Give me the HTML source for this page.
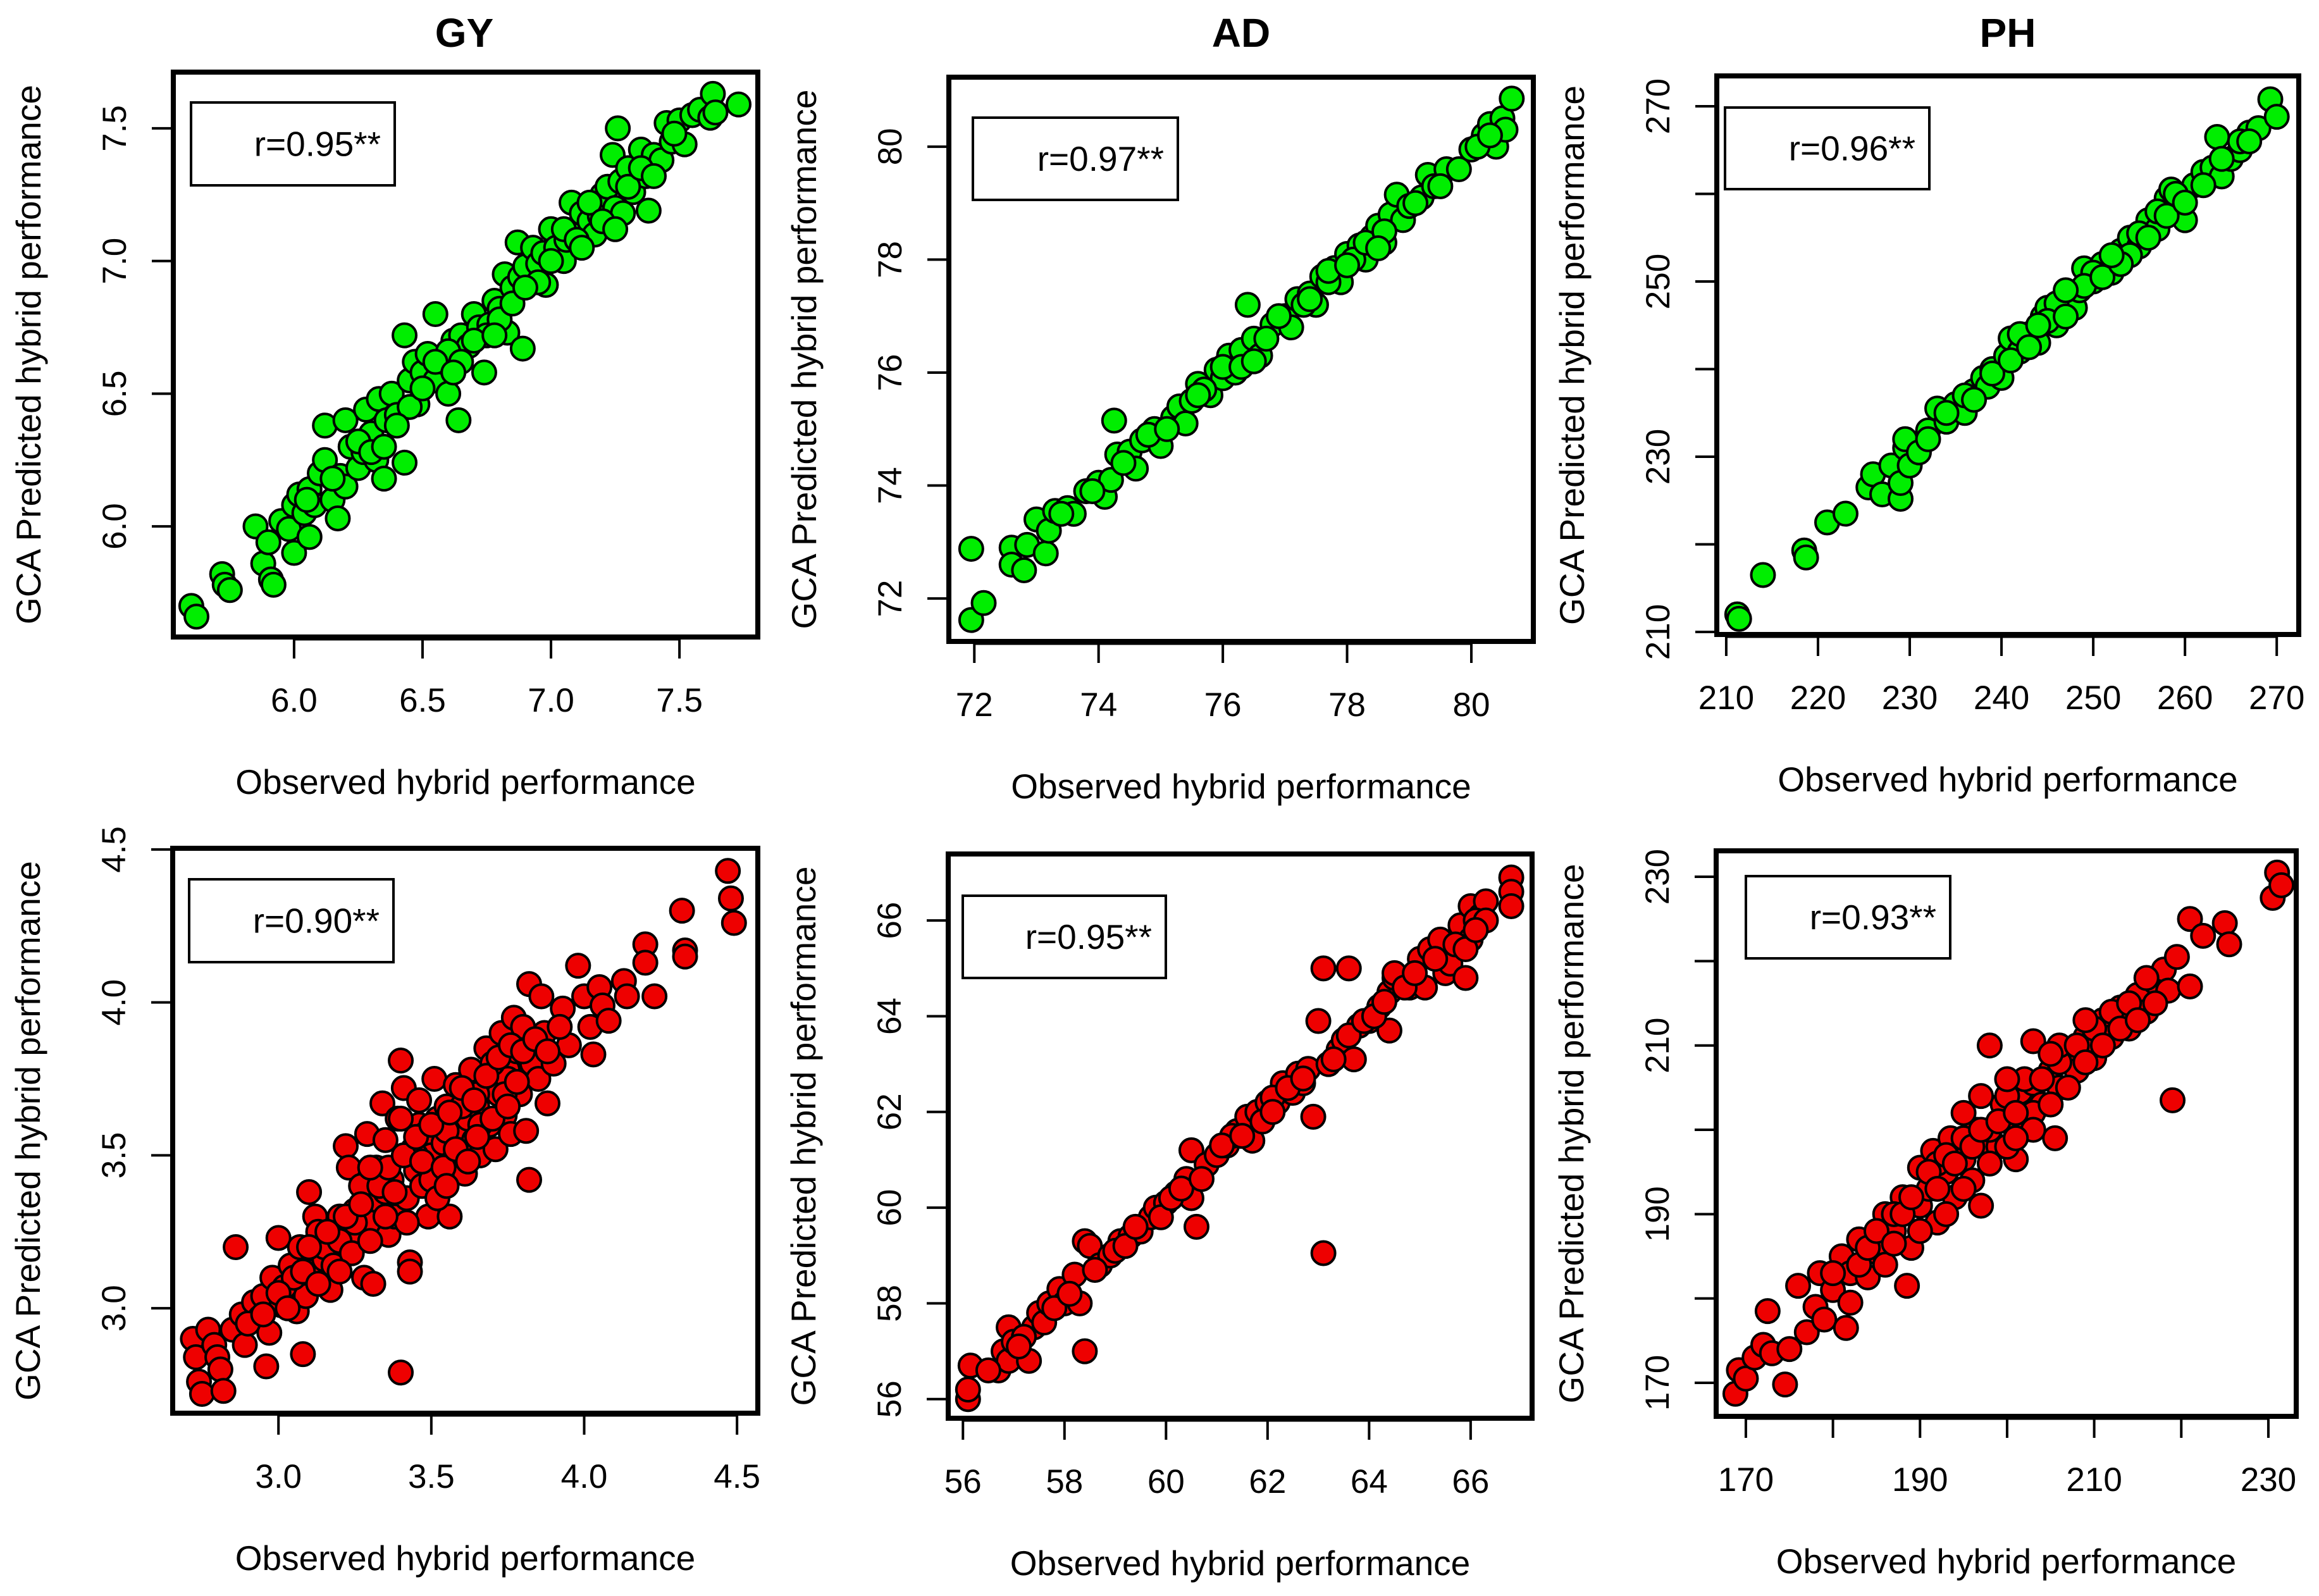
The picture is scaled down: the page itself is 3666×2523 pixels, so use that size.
<!DOCTYPE html>
<html><head><meta charset="utf-8"><style>
html,body{margin:0;padding:0;background:#fff;}
svg{display:block;font-family:"Liberation Sans",Arial,sans-serif;}
</style></head><body>
<svg id="fig" width="3666" height="2523" viewBox="0 0 3666 2523" xmlns="http://www.w3.org/2000/svg">
<rect width="3666" height="2523" fill="#fff"/>
<text x="734" y="74" font-size="64" font-weight="bold" text-anchor="middle">GY</text>
<text x="1962" y="74" font-size="64" font-weight="bold" text-anchor="middle">AD</text>
<text x="3174" y="74" font-size="64" font-weight="bold" text-anchor="middle">PH</text>
</svg>
<script>
// ---- data (observed, predicted) ----
const obsGY1=[5.60,5.62,5.72,5.73,5.75,5.85,5.88,5.90,5.91,5.92,5.95,5.98,6.00,6.00,6.02,6.04,6.06,6.06,6.08,6.10,6.12,6.12,6.15,6.17,6.18,6.20,6.20,6.22,6.25,6.27,6.28,6.30,6.32,6.33,6.35,6.36,6.38,6.40,6.43,6.43,6.45,6.47,6.48,6.50,6.52,6.55,6.55,6.58,6.60,6.62,6.64,6.65,6.68,6.70,6.72,6.74,6.76,6.78,6.80,6.82,6.83,6.85,6.87,6.88,6.89,6.90,6.93,6.95,6.97,6.98,7.00,7.02,7.05,7.06,7.08,7.10,7.12,7.15,7.17,7.19,7.20,7.22,7.24,7.25,7.26,7.27,7.28,7.30,7.32,7.35,7.37,7.38,7.40,7.43,7.45,7.47,7.50,7.52,7.55,7.58,7.62,7.63,7.64,7.73,6.25,6.45,6.60,6.75,6.95,7.05,7.15];
const predGY1=[5.70,5.66,5.82,5.78,5.76,6.00,5.86,5.94,5.80,5.78,6.02,5.99,5.90,6.08,6.12,6.05,5.96,6.14,6.08,6.20,6.38,6.25,6.10,6.03,6.19,6.15,6.40,6.30,6.22,6.28,6.44,6.35,6.25,6.48,6.18,6.40,6.50,6.42,6.24,6.72,6.55,6.62,6.46,6.58,6.65,6.80,6.55,6.62,6.50,6.70,6.40,6.72,6.68,6.80,6.75,6.58,6.76,6.85,6.82,6.95,6.73,6.90,7.07,6.94,6.67,6.98,7.05,6.99,7.03,6.91,7.12,7.05,7.00,7.08,7.22,7.12,7.18,7.15,7.10,7.17,7.25,7.28,7.40,7.20,7.50,7.30,7.18,7.35,7.26,7.42,7.32,7.19,7.40,7.38,7.52,7.45,7.53,7.44,7.55,7.57,7.54,7.63,7.56,7.59,6.32,6.45,6.66,6.72,6.92,7.12,7.22];
const obsGY1b=[6.05,6.15,6.30,6.40,6.50,6.55,6.65,6.70,6.80,6.85,6.90,7.00,7.10,7.20,7.30,7.35,7.40,7.48,6.35,6.62,6.78,7.12,7.25];
const predGY1b=[6.10,6.18,6.28,6.38,6.52,6.62,6.62,6.70,6.78,6.84,6.90,7.00,7.08,7.15,7.28,7.35,7.32,7.48,6.30,6.58,6.72,7.05,7.12];
const obsAD1=[71.95,71.95,72.15,72.6,72.6,72.8,72.85,73.0,73.15,73.2,73.3,73.5,73.6,73.8,74.0,74.1,74.2,74.25,74.3,74.5,74.6,74.7,74.9,75.0,75.2,75.3,75.4,75.5,75.6,75.8,75.9,76.0,76.1,76.2,76.3,76.4,76.5,76.6,76.8,77.0,77.1,77.2,77.4,77.5,77.6,77.8,77.9,78.0,78.2,78.3,78.4,78.5,78.6,78.7,78.8,78.9,79.0,79.2,79.3,79.4,79.6,79.8,80.0,80.2,80.3,80.4,80.5,80.55,80.65,74.8,75.7,76.9,77.7,78.1];
const predAD1=[72.88,71.62,71.92,72.9,72.6,72.5,72.95,73.4,72.8,73.2,73.55,73.6,73.5,73.9,74.05,73.8,74.1,75.15,74.55,74.6,74.3,74.8,75.0,74.7,75.2,75.4,75.1,75.5,75.8,75.6,76.05,75.9,76.3,76.0,76.4,77.2,76.6,76.3,76.85,77.0,76.8,77.3,77.4,77.2,77.7,77.85,77.6,78.1,78.25,78.0,78.4,78.6,78.3,78.8,79.15,78.7,78.95,79.1,79.5,79.3,79.6,79.6,79.95,80.2,80.4,80.0,80.5,80.3,80.85,74.9,75.7,77.0,77.6,78.0];
const obsAD1b=[73.4,73.9,74.4,75.1,75.6,76.0,76.3,76.7,77.3,77.7,78.0,78.3,78.6,79.1,79.5,80.1,80.3,76.5,77.4,78.5];
const predAD1b=[73.5,73.9,74.4,75.0,75.6,76.1,76.1,76.6,77.2,77.8,77.9,78.3,78.5,79.0,79.3,80.0,80.2,76.2,77.3,78.2];
const obsPH1=[211.2,211.4,214,218.5,218.7,221,223,225.5,226,227,228,229,229,229.5,229.5,230,231,232,233,234,235,236,237,238,238.5,239,240,240.5,241,242,243,244,244.5,245,246,247,248,248.5,249,250,251,252,253,254,255,256,257,258,258.5,259,260,261,262,263,263.5,264,265,266,267,268,269.3,270,236,242,246,250,254,257];
const predPH1=[212.0,211.5,216.5,219.3,218.5,222.5,223.5,226.5,228,225.7,229,225.2,227,231,232,229,230.5,233,235.5,234,236,235,237.5,239,238,240,239,241.5,243.5,242,244,243,246,247,245,248.5,247,249,251.5,250,252,251,253.5,255,254,257,256,259.5,260.5,258.5,257,261,262.5,263,266.5,262,264,265,267,267.5,270.8,268.8,237,244,247.5,251,253,258];
const obsPH1b=[232,234,237,239,241,243,245,247,249,251,253,255,256,258,259,260,262,264,266,267,244,247,252];
const predPH1b=[232,235,236.5,239.5,241,242.5,245.5,246,249.5,250.5,252,255.5,255,257.5,260,259,261,264,266,266,245,249,253];
const obsGY2=[2.72,2.73,2.74,2.75,2.77,2.79,2.80,2.81,2.82,2.85,2.86,2.88,2.89,2.92,2.94,2.95,2.96,2.97,2.98,3.00,3.01,3.02,3.04,3.06,3.07,3.08,3.09,3.10,3.11,3.12,3.13,3.15,3.17,3.18,3.20,3.21,3.22,3.23,3.25,3.26,3.27,3.28,3.29,3.30,3.31,3.32,3.33,3.34,3.35,3.36,3.37,3.38,3.39,3.40,3.40,3.41,3.42,3.43,3.43,3.44,3.45,3.46,3.47,3.48,3.49,3.50,3.51,3.52,3.53,3.54,3.55,3.56,3.57,3.58,3.60,3.61,3.62,3.63,3.64,3.65,3.66,3.68,3.69,3.70,3.71,3.72,3.73,3.74,3.75,3.76,3.77,3.78,3.79,3.80,3.81,3.82,3.82,3.83,3.85,3.86,3.87,3.88,3.90,3.93,3.95,3.98,4.00,4.02,4.03,4.05,4.06,4.08,4.13,4.14,4.20,4.20,4.23,4.32,4.33,4.33,4.47,4.48,4.49,3.05,3.15,3.25,3.35,3.45,3.55,3.65,3.75,3.20,3.50,3.60,3.70];
const predGY2=[2.90,2.84,2.76,2.72,2.93,2.88,2.84,2.80,2.73,2.93,3.20,2.98,2.88,3.02,2.97,3.04,2.81,2.92,3.10,3.23,3.01,3.07,3.14,2.99,3.20,2.85,3.04,3.38,3.12,3.30,3.25,3.16,3.06,3.22,3.30,3.18,3.53,3.46,3.32,3.22,3.40,3.10,3.57,3.28,3.08,3.46,3.35,3.67,3.55,3.24,3.42,3.30,3.62,3.81,2.79,3.72,3.36,3.15,3.12,3.52,3.45,3.60,3.40,3.57,3.30,3.50,3.75,3.62,3.40,3.54,3.66,3.30,3.48,3.73,3.58,3.44,3.62,3.78,3.55,3.66,3.50,3.85,3.60,3.72,3.52,3.70,3.90,3.63,3.78,3.57,3.95,3.84,3.70,3.92,3.58,3.42,4.06,3.80,3.75,4.02,3.90,3.67,3.80,3.98,3.86,4.12,4.02,3.92,3.83,4.05,3.99,3.94,4.07,4.02,4.19,4.13,4.02,4.30,4.17,4.15,4.43,4.34,4.26,3.10,3.20,3.28,3.38,3.50,3.58,3.70,3.75,3.22,3.42,3.66,3.80];
const obsGY2b=[2.90,2.95,3.00,3.03,3.08,3.10,3.13,3.16,3.18,3.22,3.24,3.27,3.30,3.33,3.36,3.38,3.41,3.42,3.45,3.47,3.50,3.52,3.54,3.56,3.58,3.60,3.62,3.64,3.66,3.68,3.70,3.72,3.74,3.76,3.78,3.80,3.84,3.88,3.92,3.46,3.40,3.30,3.20,3.35,3.55,3.65,3.75];
const predGY2b=[2.95,2.98,3.05,3.00,3.12,3.20,3.08,3.25,3.14,3.30,3.18,3.34,3.22,3.40,3.46,3.38,3.50,3.28,3.56,3.48,3.60,3.36,3.46,3.64,3.52,3.72,3.48,3.68,3.60,3.76,3.62,3.82,3.70,3.86,3.74,3.84,3.88,3.84,3.92,3.68,3.62,3.46,3.12,3.30,3.40,3.56,3.66];
const obsAD2=[56.1,56.1,56.15,56.7,56.8,56.9,56.9,57.0,57.3,57.4,57.5,57.6,57.7,57.9,58.0,58.2,58.3,58.4,58.4,58.5,58.7,58.9,59.1,59.3,59.5,59.7,59.8,60.0,60.2,60.4,60.5,60.5,60.6,60.8,61.0,61.2,61.4,61.6,61.7,61.8,62.0,62.2,62.3,62.5,62.6,62.8,62.9,63.0,63.1,63.1,63.2,63.4,63.5,63.6,63.7,63.8,64.0,64.2,64.4,64.4,64.5,64.5,64.8,65.0,65.1,65.2,65.4,65.5,65.6,65.8,65.9,66.0,66.0,66.2,66.3,66.8,66.8,66.8,57.2,59.0,61.3,62.1,62.7];
const predAD2=[56.0,56.2,56.7,56.6,57.0,56.8,57.5,57.2,56.8,57.5,57.8,57.6,58.0,58.3,58.0,58.6,58.0,57.0,59.3,59.2,58.8,59.0,59.3,59.4,59.5,59.8,60.0,60.1,60.3,60.6,61.2,60.2,59.6,60.9,61.1,61.3,61.6,61.9,61.4,62.0,62.2,62.2,62.6,62.4,62.8,62.9,61.9,63.9,65.0,59.05,63.0,63.3,63.5,65.0,63.1,63.8,63.9,64.2,63.7,64.5,64.8,64.9,64.6,65.2,64.6,65.4,65.6,64.9,65.1,65.9,64.8,66.3,65.6,66.1,66.4,66.9,66.6,66.3,57.3,59.1,61.5,62.3,62.6];
const obsAD2b=[56.5,57.1,57.8,58.1,58.6,59.2,59.4,59.9,60.1,60.3,60.7,61.1,61.5,61.9,62.1,62.4,62.7,63.3,63.6,63.9,64.1,64.3,64.7,64.9,65.3,65.7,66.1,65.9,66.3,66.1];
const predAD2b=[56.6,57.1,57.9,58.2,58.7,59.2,59.6,59.8,60.2,60.4,60.6,61.3,61.5,61.8,62.0,62.5,62.7,63.1,63.6,63.9,64.0,64.3,64.6,64.9,65.2,65.5,66.0,65.4,66.0,65.8];
const obsPH2=[168.8,169.2,170,171,172,172.5,173,174.5,175,176,177,178,178.5,179,180,181,181.5,182,182,183,184,185,186,186,187,188,188.5,189,190,190,191,191.5,192,193,193.5,194,195,196,196.5,197,197.5,198,199,199.5,200,201,201.5,202,203,203,204,205,205.5,206,207,208,209,210,211,212,213,214,215,216,217,218,218.5,219,219.5,221,221,222.5,225,225.5,230.5,231,231.5,187,192,195,198,200,203,206,210];
const predPH2=[168.7,171.5,170.5,173,174.5,178.5,173.5,169.8,174,181.5,176,179,183,177.5,181,185,176.5,179.5,183,187,182.5,185.5,190,184,188,192,181.5,186,191,195.5,193,197.5,189,195,199,192,196.5,194,200,191,198,210,198,203,201,196.5,204.5,200,210.5,205.5,203,207,199,205,209.5,207,211,208.5,213,211,214.5,212,216,214,217.5,219,216.5,203.5,220.5,217,225,223,224.5,222,227.5,230.5,229,190,196,193,200,204,202,208,210];
const obsPH2b=[180,183,184,185,187,188,189,190,191,192,193,194,195,196,197,198,199,200,201,202,203,204,205,206,207,208,209,210,211,212,213,214,215,216,217,193,195,197,200,201,205,209];
const predPH2b=[183,184,186,188,186.5,190,192,188,195,193,197,196,199,198,200,196,201,198,202,206,200,206,203,210,205,210,208,212,210,214,212,215,213,218,215,190,202,204,206,199,209,213];

// tick label arrays
const xTicksGY1=[6.0,6.5,7.0,7.5], yTicksGY1=[6.0,6.5,7.0,7.5];
const xTicksAD1=[72,74,76,78,80], yTicksAD1=[72,74,76,78,80];
const xTicksPH1=[210,220,230,240,250,260,270], yTicksPH1=[210,220,230,240,250,260,270], yLabPH1=[210,230,250,270];
const xTicksGY2=[3.0,3.5,4.0,4.5], yTicksGY2=[3.0,3.5,4.0,4.5];
const xTicksAD2=[56,58,60,62,64,66], yTicksAD2=[56,58,60,62,64,66];
const xTicksPH2=[170,180,190,200,210,220,230], yTicksPH2=[170,180,190,200,210,220,230], xLabPH2=[170,190,210,230], yLabPH2=[170,190,210,230];
const rLabels=["r=0.95**","r=0.97**","r=0.96**","r=0.90**","r=0.95**","r=0.93**"];

const NS="http://www.w3.org/2000/svg";
const svg=document.getElementById('fig');
function mk(tag,attrs,parent){const e=document.createElementNS(NS,tag);for(const k in attrs)e.setAttribute(k,attrs[k]);(parent||svg).appendChild(e);return e;}

function panel(id,box,xd,yd,obs,pred,fill,xt,yt,xl,yl,dec,rlab,leg){
  const g=mk('g',{});
  
  
  const [L,T,R,B]=box;
  const sx=v=>L+(v-xd[0])/(xd[1]-xd[0])*(R-L);
  const sy=v=>B-(v-yd[0])/(yd[1]-yd[0])*(B-T);
  const pts=mk('g',{},g);
  
  
  for(let i=0;i<obs.length;i++){
    const c=mk('circle',{cx:sx(obs[i]),cy:sy(pred[i]),r:18.5,fill:fill,stroke:'#000','stroke-width':4},pts);
    
    
  }
  const fr=mk('rect',{x:L,y:T,width:R-L,height:B-T,fill:'none',stroke:'#000','stroke-width':8},g);
  
  
  const fmt=v=>dec?v.toFixed(1):String(v);
  const xa=mk('g',{},g);
  
  
  mk('line',{x1:sx(xt[0]),x2:sx(xt[xt.length-1]),y1:B+4,y2:B+4,stroke:'#000','stroke-width':3},xa);
  xt.forEach(v=>{
    mk('line',{x1:sx(v),x2:sx(v),y1:B,y2:B+34,stroke:'#000','stroke-width':4},xa);
    if(xl.indexOf(v)>=0){const t=mk('text',{x:sx(v),y:B+118,'font-size':53,'text-anchor':'middle'},xa);t.textContent=fmt(v);
      
      }
  });
  const ya=mk('g',{},g);
  
  
  yt.forEach(v=>{
    mk('line',{x1:L,x2:L-34,y1:sy(v),y2:sy(v),stroke:'#000','stroke-width':4},ya);
    if(yl.indexOf(v)>=0){const x=L-75;const t=mk('text',{x:x,y:sy(v),'font-size':53,'text-anchor':'middle',transform:`rotate(-90 ${x} ${sy(v)})`},ya);t.textContent=fmt(v);
      
      }
  });
  const xt2=mk('text',{x:(L+R)/2,y:B+248,'font-size':55,'text-anchor':'middle'},g);
  xt2.textContent='Observed hybrid performance';
  
  
  const yx=L-210, yy=(T+B)/2;
  const yt2=mk('text',{x:yx,y:yy,'font-size':55,'text-anchor':'middle',transform:`rotate(-90 ${yx} ${yy})`},g);
  yt2.textContent='GCA Predicted hybrid performance';
  
  
  const lg=mk('g',{},g);
  
  
  mk('rect',{x:leg[0],y:leg[1],width:leg[2]-leg[0],height:leg[3]-leg[1],fill:'#fff',stroke:'#000','stroke-width':4},lg);
  const lt=mk('text',{x:leg[2]-22,y:(leg[1]+leg[3])/2+19,'font-size':55,'text-anchor':'end'},lg);
  lt.textContent=rlab;
  
  
}

panel('gy-top',[274,114,1198,1007],[5.530,7.805],[5.583,7.712],obsGY1.concat(obsGY1b),predGY1.concat(predGY1b),'#00ee00',xTicksGY1,yTicksGY1,xTicksGY1,yTicksGY1,true,rLabels[0],[302,162,624,293]);
panel('ad-top',[1500,122,2424,1014],[71.59,80.998],[71.24,81.23],obsAD1.concat(obsAD1b),predAD1.concat(predAD1b),'#00ee00',xTicksAD1,yTicksAD1,xTicksAD1,yTicksAD1,false,rLabels[1],[1538,186,1862,316]);
panel('ph-top',[2714,120,3634,1003],[208.97,272.4],[209.71,273.47],obsPH1.concat(obsPH1b),predPH1.concat(predPH1b),'#00ee00',xTicksPH1,yTicksPH1,xTicksPH1,yLabPH1,false,rLabels[2],[2727,170,3050,299]);
panel('gy-bottom',[273,1341,1198,2234],[2.654,4.568],[2.657,4.504],obsGY2.concat(obsGY2b),predGY2.concat(predGY2b),'#ee0000',xTicksGY2,yTicksGY2,xTicksGY2,yTicksGY2,true,rLabels[3],[299,1390,622,1521]);
panel('ad-bottom',[1499,1350,2422,2242],[55.71,67.21],[55.60,67.39],obsAD2.concat(obsAD2b),predAD2.concat(predAD2b),'#ee0000',xTicksAD2,yTicksAD2,xTicksAD2,yTicksAD2,false,rLabels[4],[1522,1416,1843,1546]);
panel('ph-bottom',[2713,1345,3630,2239],[166.59,233.2],[166.02,233.08],obsPH2.concat(obsPH2b),predPH2.concat(predPH2b),'#ee0000',xTicksPH2,yTicksPH2,xLabPH2,yLabPH2,false,rLabels[5],[2760,1385,3083,1515]);
</script>
</body></html>
